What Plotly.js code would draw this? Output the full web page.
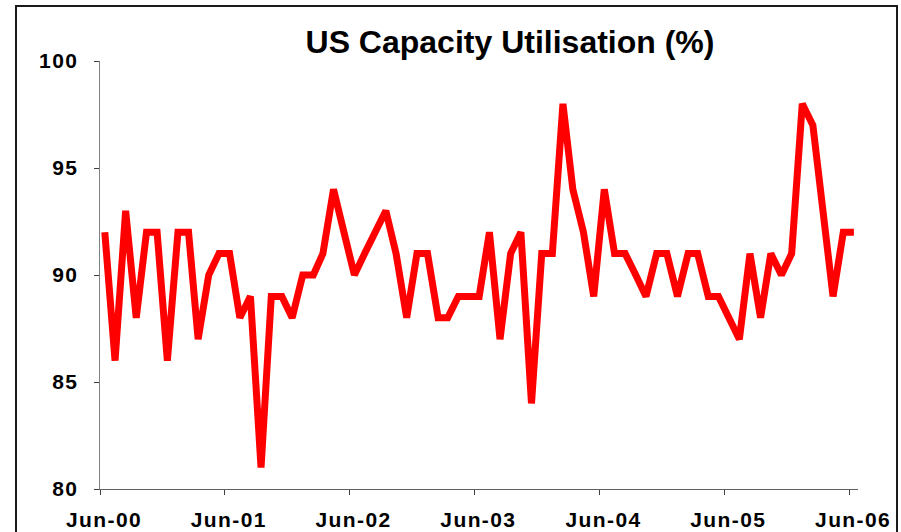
<!DOCTYPE html>
<html>
<head>
<meta charset="utf-8">
<script src="https://cdn.plot.ly/plotly-3.0.1.min.js"></script>
<style>
  html, body { margin: 0; padding: 0; background: #fff; }
  #chart { width: 901px; height: 532px; }
  .xtick text, .ytick text { letter-spacing: 1.4px; }
</style>
</head>
<body>
<div id="chart"></div>
<script>
// Monthly US capacity utilisation (%), Jun-2000 .. Jun-2006
const startYear = 2000, startMonth = 6, nMonths = 73;
const utilisation = [
  92, 86, 93, 88, 92, 92, 86, 92, 92, 87,
  90, 91, 91, 88, 89, 81, 89, 89, 88, 90,
  90, 91, 94, 92, 90, 91, 92, 93, 91, 88,
  91, 91, 88, 88, 89, 89, 89, 92, 87, 91,
  92, 84, 91, 91, 98, 94, 92, 89, 94, 91,
  91, 90, 89, 91, 91, 89, 91, 91, 89, 89,
  88, 87, 91, 88, 91, 90, 91, 98, 97, 93,
  89, 92, 92
];
const tickDates = ['2000-06-01','2001-06-01','2002-06-01','2003-06-01','2004-06-01','2005-06-01','2006-06-01'];
const tickLabels = ['Jun-00','Jun-01','Jun-02','Jun-03','Jun-04','Jun-05','Jun-06'];
const yTicks = [80, 85, 90, 95, 100];

const dates = [];
for (let i = 0; i < nMonths; i++) {
  const m = startMonth - 1 + i;
  const y = startYear + Math.floor(m / 12);
  const mm = (m % 12) + 1;
  dates.push(y + '-' + String(mm).padStart(2, '0') + '-15');
}

const font = 'Liberation Sans, Arial, sans-serif';

const trace = {
  x: dates,
  y: utilisation,
  type: 'scatter',
  mode: 'lines',
  line: { color: '#FF0000', width: 7, shape: 'linear' },
  hoverinfo: 'x+y'
};

const layout = {
  width: 901,
  height: 532,
  margin: { l: 100, r: 43, t: 61, b: 43 },
  paper_bgcolor: '#ffffff',
  plot_bgcolor: '#ffffff',
  showlegend: false,
  title: {
    text: '<b>US Capacity Utilisation (%)</b>',
    font: { family: font, size: 32, color: '#000000' },
    x: 510 / 901,
    xanchor: 'center',
    xref: 'container',
    y: 1 - 42 / 532,
    yanchor: 'middle',
    yref: 'container'
  },
  xaxis: {
    type: 'date',
    range: ['2000-06-01', '2006-06-27'],
    tickmode: 'array',
    tickvals: tickDates,
    ticktext: tickLabels,
    ticks: 'outside',
    ticklen: 5,
    tickwidth: 1,
    tickcolor: '#404040',
    showline: true,
    linecolor: '#606060',
    linewidth: 1,
    showgrid: false,
    zeroline: false,
    ticklabelstandoff: 7,
    ticklabelshift: 4,
    tickfont: { family: font, size: 21, color: '#000000', weight: 'bold' }
  },
  yaxis: {
    range: [80, 100],
    tickmode: 'array',
    tickvals: yTicks,
    ticktext: yTicks.map(String),
    ticks: 'outside',
    ticklen: 5,
    tickwidth: 1,
    tickcolor: '#404040',
    showline: true,
    linecolor: '#808080',
    linewidth: 1.5,
    showgrid: false,
    zeroline: false,
    ticklabelstandoff: 11,
    tickfont: { family: font, size: 21, color: '#000000', weight: 'bold' }
  },
  shapes: [{
    type: 'rect',
    xref: 'paper', yref: 'paper',
    x0: (16 - 100) / 758, x1: (897 - 100) / 758,
    y0: (489 - 545) / 428, y1: (489 - 6) / 428,
    line: { color: '#1a1a1a', width: 2 },
    fillcolor: 'rgba(0,0,0,0)',
    layer: 'below'
  }]
};

Plotly.newPlot('chart', [trace], layout, { displayModeBar: false, staticPlot: true });
</script>
</body>
</html>
